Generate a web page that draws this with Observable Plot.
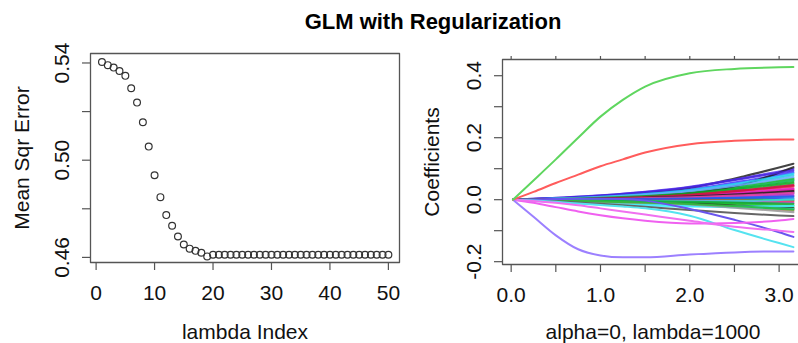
<!DOCTYPE html>
<html>
<head>
<meta charset="utf-8">
<script src="https://cdn.jsdelivr.net/npm/d3@7"></script>
<script src="https://cdn.jsdelivr.net/npm/@observablehq/plot@0.6"></script>
<style>
  html, body { margin: 0; padding: 0; background: #fff; }
  #wrap { position: relative; width: 798px; height: 343px; overflow: hidden; background: #fff;
          font-family: "Liberation Sans", Arial, Helvetica, sans-serif; }
  #title { position: absolute; left: 0; top: 11px; width: 866px; text-align: center;
           font-weight: bold; font-size: 22px; line-height: 22px; color: #000; }
  #left, #right { position: absolute; top: 0; }
  #left { left: 0; width: 405px; height: 343px; }
  #right { left: 400px; width: 410px; height: 343px; }
  svg { max-width: none !important; }
</style>
</head>
<body>
<div id="wrap">
  <div id="left"></div>
  <div id="right"></div>
  <div id="title">GLM with Regularization</div>
</div>
<script>
// ---------- Left panel data ----------
const lambdaIndex = d3.range(1, 51);
const mse = [
  0.5404, 0.5391, 0.5381, 0.5367, 0.5347, 0.5296, 0.5237, 0.5156, 0.5056, 0.4938,
  0.4848, 0.4774, 0.4730, 0.4686, 0.4653, 0.4636, 0.4627, 0.4619, 0.4604, 0.4611,
  0.4611, 0.4611, 0.4611, 0.4611, 0.4611, 0.4611, 0.4611, 0.4611, 0.4611, 0.4611,
  0.4611, 0.4611, 0.4611, 0.4611, 0.4611, 0.4611, 0.4611, 0.4611, 0.4611, 0.4611,
  0.4611, 0.4611, 0.4611, 0.4611, 0.4611, 0.4611, 0.4611, 0.4611, 0.4611, 0.4611
];
const xDomainLeft = [-0.96, 51.9];
const yDomainLeft = [0.4579, 0.5439];
const xTicksLeft = [0, 10, 20, 30, 40, 50];
const xLabelsLeft = ["0", "10", "20", "30", "40", "50"];
const yTicksLeft = [0.46, 0.48, 0.50, 0.52, 0.54];
const yLabelsLeft = ["0.46", "", "0.50", "", "0.54"];

// ---------- Right panel data ----------
const xDomainRight = [-0.097, 3.273];
const yDomainRight = [-0.2091, 0.4523];
const xMain = [0.02, 0.25, 0.5, 0.75, 1.0, 1.25, 1.5, 2.0, 2.5, 3.0, 3.16];
const coefGreen    = [0, 0.062, 0.130, 0.200, 0.268, 0.322, 0.365, 0.408, 0.422, 0.427, 0.428];
const coefRed      = [0, 0.025, 0.054, 0.081, 0.108, 0.130, 0.152, 0.179, 0.190, 0.194, 0.194];
const coefBlue     = [0, -0.055, -0.115, -0.160, -0.180, -0.186, -0.186, -0.177, -0.170, -0.167, -0.167];
const coefMagentaA = [0, -0.010, -0.024, -0.038, -0.050, -0.060, -0.068, -0.077, -0.075, -0.067, -0.062];
const coefMagentaB = [0, -0.004, -0.010, -0.018, -0.028, -0.038, -0.048, -0.068, -0.087, -0.100, -0.104];
const coefCyan     = [0, -0.003, -0.007, -0.012, -0.017, -0.022, -0.028, -0.052, -0.098, -0.140, -0.153];
const coefViolet   = [0, 0.000, 0.002, 0.003, 0.003, 0.002, -0.003, -0.030, -0.065, -0.105, -0.120];
const coefGray     = [0, -0.002, -0.005, -0.009, -0.013, -0.018, -0.023, -0.033, -0.043, -0.051, -0.053];

const xBundle = [0.02, 1.0, 2.0, 2.6, 3.16];
const bundleColors = [
  "#222222", "#5533ee", "#4433ff", "#33ccdd", "#22bb33", "#33dde8", "#22aa33", "#ee2244",
  "#ee33cc", "#ee2244", "#222222", "#5522cc", "#dd33cc", "#22ccdd", "#3344ee", "#22bb33",
  "#ee3344", "#dd33dd", "#22bb33", "#22cc33", "#333333", "#f08070", "#33e0ee", "#44eeff",
  "#22bb44", "#ee3355", "#222222", "#dd22bb", "#4422dd", "#22ccee", "#66aaff", "#11aa22",
  "#cc1144", "#222222", "#ee44aa", "#2255ee", "#33dddd", "#11aa33", "#999999", "#22bb33"
];
const bundleValues = [
  [0, 0.012, 0.038, 0.075, 0.116],
  [0, 0.014, 0.042, 0.070, 0.100],
  [0, 0.010, 0.033, 0.060, 0.089],
  [0, 0.008, 0.028, 0.052, 0.079],
  [0, 0.007, 0.025, 0.045, 0.068],
  [0, 0.006, 0.022, 0.040, 0.062],
  [0, 0.005, 0.019, 0.034, 0.052],
  [0, 0.004, 0.015, 0.027, 0.042],
  [0, 0.004, 0.013, 0.024, 0.036],
  [0, 0.003, 0.011, 0.020, 0.031],
  [0, 0.003, 0.009, 0.016, 0.025],
  [0, 0.002, 0.007, 0.012, 0.019],
  [0, 0.002, 0.005, 0.009, 0.014],
  [0, 0.001, 0.003, 0.005, 0.008],
  [0, 0.000, 0.002, 0.003, 0.004],
  [0, 0.000, 0.000, 0.000, -0.002],
  [0, -0.001, -0.002, -0.003, -0.006],
  [0, -0.002, -0.004, -0.007, -0.010],
  [0, -0.004, -0.008, -0.012, -0.018],
  [0, -0.005, -0.010, -0.016, -0.024],
  [0, -0.006, -0.012, -0.020, -0.028],
  [0, -0.008, -0.016, -0.025, -0.035],
  [0, -0.012, -0.020, -0.026, -0.030],
  [0, -0.015, -0.022, -0.022, -0.020],
  [0, 0.006, 0.024, 0.043, 0.064],
  [0, 0.005, 0.018, 0.030, 0.045],
  [0, 0.006, 0.022, 0.050, 0.105],
  [0, 0.003, 0.012, 0.022, 0.034],
  [0, 0.013, 0.040, 0.068, 0.095],
  [0, 0.009, 0.031, 0.055, 0.084],
  [0, 0.008, 0.027, 0.049, 0.073],
  [0, 0.006, 0.021, 0.038, 0.057],
  [0, 0.004, 0.016, 0.030, 0.047],
  [0, 0.003, 0.010, 0.018, 0.028],
  [0, 0.002, 0.008, 0.014, 0.022],
  [0, 0.001, 0.004, 0.007, 0.011],
  [0, -0.003, -0.005, -0.004, 0.001],
  [0, -0.003, -0.007, -0.010, -0.013],
  [0, -0.007, -0.015, -0.028, -0.040],
  [0, -0.006, -0.014, -0.022, -0.032]
];
const xTicksRight = [0, 0.5, 1, 1.5, 2, 2.5, 3];
const xLabelsRight = ["0.0", "", "1.0", "", "2.0", "", "3.0"];
const yTicksRight = [-0.2, -0.1, 0, 0.1, 0.2, 0.3, 0.4];
const yLabelsRight = ["-0.2", "", "0.0", "", "0.2", "", "0.4"];

const FONT = '"Liberation Sans", Arial, Helvetica, sans-serif';
const AX = "#555555";
const lab = (ticks, labels) => { const m = new Map(ticks.map((t, i) => [t, labels[i]])); return d => m.get(d) ?? ""; };

// plot-area box drawn as a closed line through the scales' domain corners
function boxFor(xd, yd) {
  const corners = [[xd[0], yd[0]], [xd[1], yd[0]], [xd[1], yd[1]], [xd[0], yd[1]], [xd[0], yd[0]]];
  return [
    Plot.line(corners, {x: d => d[0], y: d => d[1], stroke: AX, strokeWidth: 1.3, curve: "linear"})
  ];
}

function axesFor(xT, xL, yT, yL, top) {
  const marks = [
    Plot.axisX(xT, {anchor: "bottom", tickSize: 8, tickFormat: () => "", stroke: AX, strokeWidth: 1.2, label: null}),
    Plot.axisX(xT, {anchor: "bottom", tickSize: 0, tickPadding: 23, tickFormat: lab(xT, xL), fontSize: 21, fill: "#111", label: null}),
    Plot.axisY(yT, {anchor: "left", tickSize: 8, tickFormat: () => "", stroke: AX, strokeWidth: 1.2, label: null}),
    Plot.axisY(yT, {anchor: "left", tickSize: 0, tickPadding: 22, tickRotate: -90, tickFormat: lab(yT, yL), fontSize: 21, fill: "#111", label: null})
  ];
  if (top) marks.push(Plot.axisX(xT, {anchor: "top", tickSize: 4, tickFormat: () => "", stroke: AX, strokeWidth: 1.2, label: null}));
  return marks;
}

// ---------- Left plot ----------
const left = Plot.plot({
  width: 405, height: 343,
  marginLeft: 90, marginRight: 6, marginTop: 53, marginBottom: 81,
  style: {fontFamily: FONT, background: "transparent", color: "#111"},
  x: {domain: xDomainLeft},
  y: {domain: yDomainLeft},
  marks: [
    ...boxFor(xDomainLeft, yDomainLeft),
    ...axesFor(xTicksLeft, xLabelsLeft, yTicksLeft, yLabelsLeft, false),
    Plot.dot(lambdaIndex, {x: d => d, y: (d, i) => mse[i], r: 3.4, stroke: "#333", strokeWidth: 1.2, fill: "none"}),
    Plot.text(["Mean Sqr Error"], {text: d => d, frameAnchor: "left", dx: -68, rotate: -90, textAnchor: "middle", lineAnchor: "middle", fontSize: 21, fill: "#111"}),
    Plot.text(["lambda Index"], {text: d => d, frameAnchor: "bottom", dy: 70, textAnchor: "middle", lineAnchor: "middle", fontSize: 21, fill: "#111"})
  ]
});
document.getElementById("left").appendChild(left);

// ---------- Right plot ----------
const mainSeries = [
  {v: coefGray, c: "#666666"},
  {v: coefViolet, c: "#6a55ee"},
  {v: coefCyan, c: "#55e3f0"},
  {v: coefMagentaA, c: "#f060f0"},
  {v: coefMagentaB, c: "#f070f0"},
  {v: coefBlue, c: "#9c80ff"},
  {v: coefRed, c: "#ff5c5c"},
  {v: coefGreen, c: "#5fd65f"}
];
const lineMarks = [];
bundleValues.forEach((vals, k) => {
  lineMarks.push(Plot.line(xBundle, {x: d => d, y: (d, i) => vals[i], curve: "monotone-x",
    stroke: bundleColors[k], strokeWidth: 2.1, strokeOpacity: 0.85}));
});
mainSeries.forEach(s => {
  lineMarks.push(Plot.line(xMain, {x: d => d, y: (d, i) => s.v[i], curve: "monotone-x",
    stroke: s.c, strokeWidth: 2}));
});

const right = Plot.plot({
  width: 410, height: 343,
  marginLeft: 102, marginRight: 7, marginTop: 59, marginBottom: 79,
  style: {fontFamily: FONT, background: "transparent", color: "#111"},
  x: {domain: xDomainRight},
  y: {domain: yDomainRight},
  marks: [
    ...lineMarks,
    ...boxFor(xDomainRight, yDomainRight),
    ...axesFor(xTicksRight, xLabelsRight, yTicksRight, yLabelsRight, true),
    Plot.text(["Coefficients"], {text: d => d, frameAnchor: "left", dx: -70, rotate: -90, textAnchor: "middle", lineAnchor: "middle", fontSize: 21, fill: "#111"}),
    Plot.text(["alpha=0, lambda=1000"], {text: d => d, frameAnchor: "bottom", dy: 68, textAnchor: "middle", lineAnchor: "middle", fontSize: 21, fill: "#111"})
  ]
});
document.getElementById("right").appendChild(right);
</script>
</body>
</html>
